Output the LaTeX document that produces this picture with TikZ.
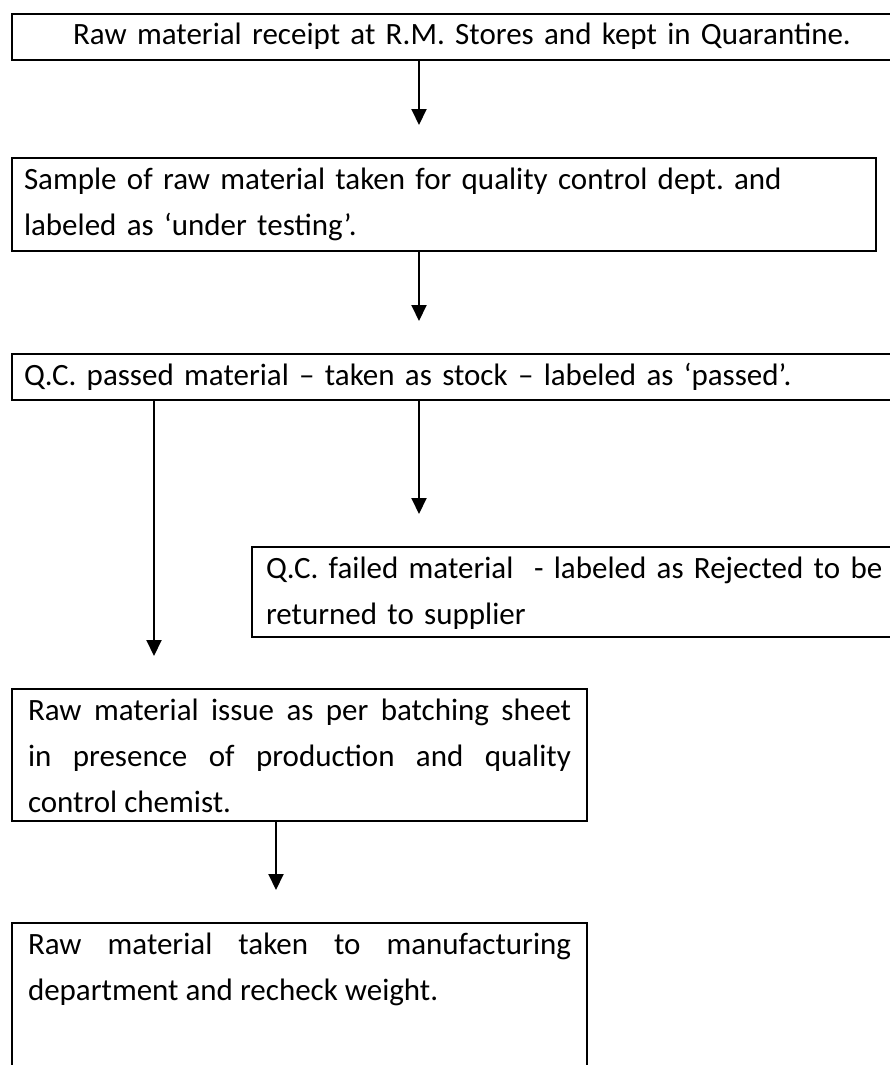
\documentclass[tikz,border=0pt]{standalone}
\usepackage{fontspec}
\setmainfont{Carlito}
\usetikzlibrary{arrows.meta}
\frenchspacing
\begin{document}
\begin{tikzpicture}[x=1pt,y=1pt,
  box/.style={draw,line width=2pt,rectangle,anchor=north west,inner xsep=14pt,inner ysep=0pt,
    text height=31pt,font=\fontsize{31}{46}\selectfont\frenchspacing},
  arr/.style={line width=2pt,-{Triangle[length=16pt,width=15pt]},shorten >=32pt}]
\useasboundingbox (0,0) rectangle (889,-1065);
\node[box,text width=872pt,align=center,text depth=15pt] (b1) at (11,-13)
  {Raw material receipt at R.M. Stores and kept in Quarantine.};
\node[box,inner xsep=12pt,text width=840pt,align=left,text depth=62pt] (b2) at (11,-157)
  {Sample of raw material taken for quality control dept. and\\labeled as `under testing'.};
\node[box,inner xsep=12pt,text width=876pt,align=left,text depth=15pt] (b3) at (11,-353)
  {Q.C. passed material -- taken as stock -- labeled as `passed'.};
\node[box,inner xsep=14pt,text width=700pt,align=left,text depth=59pt] (b4) at (251,-546)
  {Q.C. failed material\ \ - labeled as Rejected to be\\returned to supplier};
\node[box,inner xsep=16pt,text width=543pt,align=justify,text depth=101pt] (b5) at (11,-688)
  {Raw material issue as per batching sheet \linebreak in presence of production and quality \linebreak control chemist.};
\node[box,inner xsep=16pt,text width=543pt,align=justify,text depth=200pt] (b6) at (11,-922)
  {Raw material taken to manufacturing \linebreak department and recheck weight.};
\coordinate (xa) at (419,0);
\coordinate (xb) at (154,0);
\coordinate (xc) at (276,0);
\draw[arr] (b1.south -| xa) -- (b2.north -| xa);
\draw[arr] (b2.south -| xa) -- (b3.north -| xa);
\draw[arr] (b3.south -| xb) -- (b5.north -| xb);
\draw[arr] (b3.south -| xa) -- (b4.north -| xa);
\draw[arr] (b5.south -| xc) -- (b6.north -| xc);
\end{tikzpicture}
\end{document}
